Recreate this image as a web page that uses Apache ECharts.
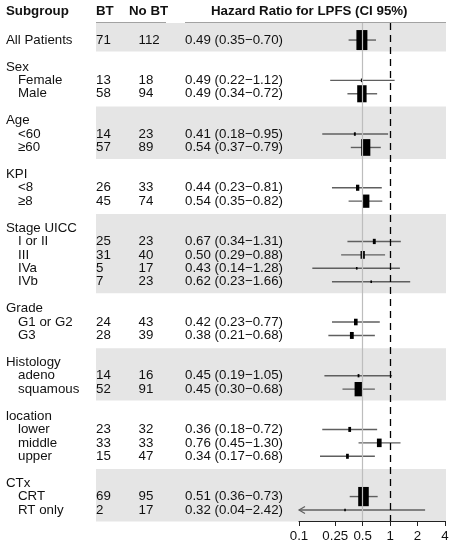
<!DOCTYPE html>
<html>

<head>
    <meta charset="utf-8">
    <script src="https://cdn.jsdelivr.net/npm/echarts@6.0.0/dist/echarts.min.js"></script>
    <style>
        body { margin: 0; background: #fff; }
    </style>
</head>

<body>
    <div id="main" style="width: 454px;height:550px;"></div>

    <script>
        // subgroup rows, in display order
        const items = ['All Patients', 'Female', 'Male', '<60', '≥60', '<8', '≥8', 'I or II', 'III', 'IVa', 'IVb',
            'G1 or G2', 'G3', 'adeno', 'squamous', 'lower', 'middle', 'upper', 'CRT', 'RT only'];
        const btN = [71, 13, 58, 14, 57, 26, 45, 25, 31, 5, 7, 24, 28, 14, 52, 23, 33, 15, 69, 2];
        const noBtN = [112, 18, 94, 23, 89, 33, 74, 23, 40, 17, 23, 43, 39, 16, 91, 32, 33, 47, 95, 17];
        const hr = [0.49, 0.49, 0.49, 0.41, 0.54, 0.44, 0.54, 0.67, 0.50, 0.43, 0.62, 0.42, 0.38, 0.45, 0.45,
            0.36, 0.76, 0.34, 0.51, 0.32];
        const ciLow = [0.35, 0.22, 0.34, 0.18, 0.37, 0.23, 0.35, 0.34, 0.29, 0.14, 0.23, 0.23, 0.21, 0.19, 0.30,
            0.18, 0.45, 0.17, 0.36, 0.04];
        const ciHigh = [0.70, 1.12, 0.72, 0.95, 0.79, 0.81, 0.82, 1.31, 0.88, 1.28, 1.66, 0.77, 0.68, 1.05, 0.68,
            0.72, 1.30, 0.68, 0.73, 2.42];

        // groups (after "All Patients") and how many items each has
        const groupTitles = ['Sex', 'Age', 'KPI', 'Stage UICC', 'Grade', 'Histology', 'location', 'CTx'];
        const groupSizes = [2, 2, 2, 4, 2, 2, 3, 2];

        const overallHR = 0.49;
        const tickValues = [0.1, 0.25, 0.5, 1, 2, 4];

        // layout
        const FONT = '13.3px "Liberation Sans", Arial, sans-serif';
        const BOLD = 'bold 13.3px "Liberation Sans", Arial, sans-serif';
        const ROW_MIN = -1.27, ROW_MAX = 35.82;
        const COL = { group: 6, item: 18, bt: 96, nobt: 138.5, hr: 185, bandL: 96, bandR: 446 };
        const fmt = v => v.toFixed(2);

        // work out the row index of every item / group title
        const itemRow = [0];
        const titleRow = [];
        const blocks = [[0, 0]]; // [first row, last row] of each block
        let r = 0;
        groupTitles.forEach((g, gi) => {
            r += 2;
            titleRow.push(r);
            const first = r;
            for (let k = 0; k < groupSizes[gi]; k++) {
                r += 1;
                itemRow.push(r);
            }
            blocks.push([first, r]);
        });

        // text cells
        const texts = [];
        items.forEach((name, i) => {
            texts.push({ x: i === 0 ? COL.group : COL.item, row: itemRow[i], text: name });
            texts.push({ x: COL.bt, row: itemRow[i], text: String(btN[i]) });
            texts.push({ x: COL.nobt, row: itemRow[i], text: String(noBtN[i]) });
            texts.push({
                x: COL.hr, row: itemRow[i],
                text: fmt(hr[i]) + ' (' + fmt(ciLow[i]) + '\u2212' + fmt(ciHigh[i]) + ')'
            });
        });
        groupTitles.forEach((g, gi) => {
            texts.push({ x: COL.group, row: titleRow[gi], text: g });
        });

        // shaded bands: every other block
        const bands = blocks.filter((b, i) => i % 2 === 0)
            .map((b, i) => [i === 0 ? ROW_MIN : b[0] - 1.05, b[1] + 0.85]);

        // box size ~ inverse variance
        const weights = items.map((n, i) => 1 / Math.pow(Math.log(ciHigh[i] / ciLow[i]), 2));
        const maxW = Math.max(...weights);

        const forestData = items.map((n, i) => [itemRow[i], hr[i], ciLow[i], ciHigh[i], weights[i] / maxW]);

        const lg = v => Math.log10(v);
        const X_MIN = lg(tickValues[0]);
        const X_MAX = lg(tickValues[tickValues.length - 1]);

        const myChart = echarts.init(document.getElementById('main'));

        const option = {
            animation: false,
            grid: [
                { left: 0, right: 0, top: 23, bottom: 29 },
                { left: 299, right: 9, top: 23, bottom: 29 }
            ],
            xAxis: [
                { gridIndex: 0, type: 'value', min: 0, max: 454, show: false },
                {
                    gridIndex: 1, type: 'value', min: X_MIN, max: X_MAX, position: 'bottom',
                    splitLine: { show: false },
                    axisLine: { show: true, onZero: false, lineStyle: { color: '#222', width: 1 } },
                    axisTick: {
                        show: true, length: 5, lineStyle: { color: '#222' },
                        customValues: tickValues.map(lg)
                    },
                    axisLabel: {
                        customValues: tickValues.map(lg),
                        formatter: v => String(Math.round(Math.pow(10, v) * 100) / 100),
                        color: '#111', fontSize: 13.3, fontFamily: '"Liberation Sans", Arial, sans-serif',
                        margin: 9
                    }
                }
            ],
            yAxis: [
                { gridIndex: 0, type: 'value', min: ROW_MIN, max: ROW_MAX, inverse: true, show: false },
                { gridIndex: 1, type: 'value', min: ROW_MIN, max: ROW_MAX, inverse: true, show: false }
            ],
            graphic: [
                { type: 'text', left: 6, top: 5, style: { text: 'Subgroup', font: BOLD, fill: '#111' } },
                { type: 'text', left: 96, top: 5, style: { text: 'BT', font: BOLD, fill: '#111' } },
                { type: 'text', left: 129, top: 5, style: { text: 'No BT', font: BOLD, fill: '#111' } },
                {
                    type: 'text', left: 211, top: 5,
                    style: { text: 'Hazard Ratio for LPFS (CI 95%)', font: BOLD, fill: '#111' }
                },
                {
                    type: 'line', shape: { x1: 96, y1: 23, x2: 166, y2: 23 },
                    style: { stroke: '#444', lineWidth: 1 }
                },
                {
                    type: 'line', shape: { x1: 185, y1: 23, x2: 446, y2: 23 },
                    style: { stroke: '#444', lineWidth: 1 }
                }
            ],
            series: [
                {
                    // background bands
                    type: 'custom', xAxisIndex: 0, yAxisIndex: 0, z: 0,
                    data: bands,
                    renderItem: (params, api) => {
                        const p1 = api.coord([COL.bandL, api.value(0)]);
                        const p2 = api.coord([COL.bandR, api.value(1)]);
                        return {
                            type: 'rect',
                            shape: { x: p1[0], y: p1[1], width: p2[0] - p1[0], height: p2[1] - p1[1] },
                            style: { fill: '#e5e5e5' }
                        };
                    }
                },
                {
                    // table text
                    type: 'custom', xAxisIndex: 0, yAxisIndex: 0, z: 3,
                    data: texts.map(t => [t.x, t.row]),
                    renderItem: (params, api) => {
                        const p = api.coord([api.value(0), api.value(1)]);
                        return {
                            type: 'text', x: p[0], y: p[1],
                            style: {
                                text: texts[params.dataIndex].text, font: FONT, fill: '#111',
                                align: 'left', verticalAlign: 'middle'
                            }
                        };
                    }
                },
                {
                    // CI lines + boxes
                    type: 'custom', xAxisIndex: 1, yAxisIndex: 1, z: 3,
                    data: forestData,
                    renderItem: (params, api) => {
                        const row = api.value(0);
                        const est = api.value(1), lo = api.value(2), hi = api.value(3), w = api.value(4);
                        const pLo = api.coord([Math.max(lg(lo), X_MIN), row]);
                        const pHi = api.coord([Math.min(lg(hi), X_MAX), row]);
                        const pE = api.coord([lg(est), row]);
                        const bw = Math.max(11 * w, 1.6);
                        const bh = Math.max(20 * w, 2.6);
                        const children = [{
                            type: 'line',
                            shape: { x1: pLo[0], y1: pLo[1], x2: pHi[0], y2: pHi[1] },
                            style: { stroke: '#5f5f5f', lineWidth: 1.4 }
                        }];
                        if (lg(lo) < X_MIN) {
                            children.push({
                                type: 'polyline',
                                shape: { points: [[pLo[0] + 6, pLo[1] - 3.5], [pLo[0], pLo[1]], [pLo[0] + 6, pLo[1] + 3.5]] },
                                style: { stroke: '#5f5f5f', lineWidth: 1.2, fill: null }
                            });
                        }
                        children.push({
                            type: 'rect',
                            shape: { x: pE[0] - bw / 2, y: pE[1] - bh / 2, width: bw, height: bh },
                            style: { fill: '#000' }
                        });
                        return { type: 'group', children: children };
                    }
                },
                {
                    // reference lines
                    type: 'line', xAxisIndex: 1, yAxisIndex: 1, z: 5,
                    data: [],
                    markLine: {
                        silent: true, symbol: 'none', animation: false,
                        label: { show: false },
                        data: [
                            { xAxis: lg(overallHR), lineStyle: { color: '#bdbdbd', width: 1.2, type: 'solid' } },
                            { xAxis: 0, lineStyle: { color: '#000', width: 1.3, type: [7, 5] } }
                        ]
                    }
                }
            ]
        };

        myChart.setOption(option);
    </script>
</body>

</html>
